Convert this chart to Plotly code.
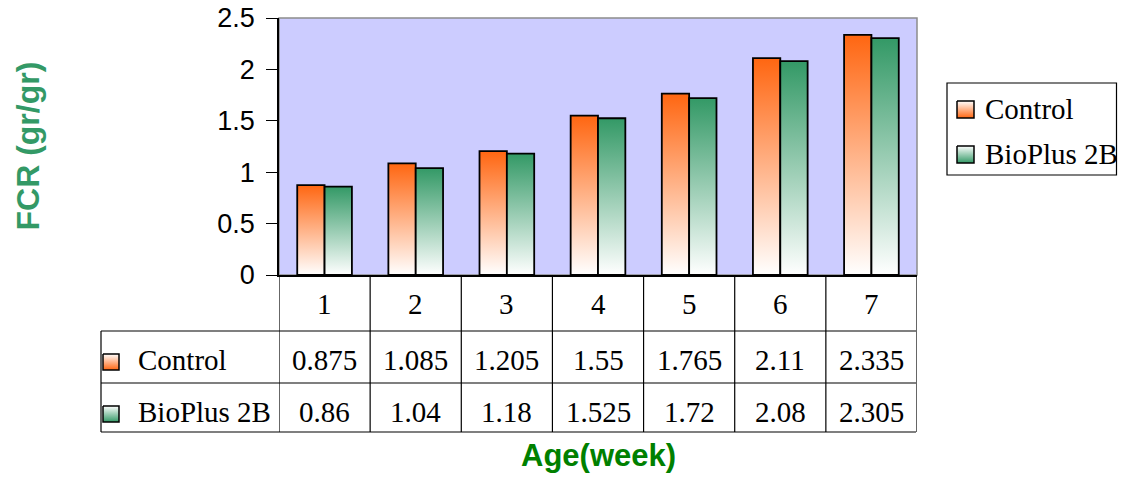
import plotly.graph_objects as go

weeks = ["1", "2", "3", "4", "5", "6", "7"]
control = [0.875, 1.085, 1.205, 1.55, 1.765, 2.11, 2.335]
bioplus = [0.86, 1.04, 1.18, 1.525, 1.72, 2.08, 2.305]
series_names = ["Control", "BioPlus 2B"]
series_colors = ["#FF6611", "#339966"]
y_ticks = [0, 0.5, 1, 1.5, 2, 2.5]

OFF = 8                              # page body margin compensation
W, H = 1126 - 2 * OFF, 482 - 2 * OFF # figure fits the window without scrollbars
PL, PR, PT, PB = 279, 917, 18, 275   # plot area in screen pixels
BW = 0.3                             # bar width in category units
SERIF = "Liberation Serif, Times New Roman, serif"
SANS = "Liberation Sans, Arial, sans-serif"
TFS = 29                             # table / legend font size

fig = go.Figure()

# bars as gradient-filled polygons on the main axes
for s, (vals, col, name) in enumerate(zip([control, bioplus], series_colors, series_names)):
    for i, v in enumerate(vals):
        xc = i + 1
        x0 = xc - BW if s == 0 else xc
        x1 = x0 + BW
        fig.add_trace(go.Scatter(
            x=[x0, x0, x1, x1, x0], y=[0, v, v, 0, 0],
            mode="lines", fill="toself",
            fillgradient=dict(type="vertical", colorscale=[[0, "#FFFFFF"], [1, col]]),
            line=dict(color="black", width=1.8),
            xaxis="x", yaxis="y", showlegend=False, hoverinfo="skip", name=name))


def swatch(x0, y0, size, col):
    fig.add_trace(go.Scatter(
        x=[x0, x0, x0 + size, x0 + size, x0], y=[y0, y0 + size, y0 + size, y0, y0],
        mode="lines", fill="toself",
        fillgradient=dict(type="vertical", colorscale=[[0, col], [1, "#FFFFFF"]]),
        line=dict(color="black", width=1.5),
        xaxis="x2", yaxis="y2", showlegend=False, hoverinfo="skip"))


shapes = []
annotations = []

# plot background and border
shapes.append(dict(type="rect", xref="x domain", yref="y domain", x0=0, x1=1, y0=0, y1=1,
                   fillcolor="#CCCCFF", line=dict(color="#8C8C8C", width=1.5), layer="below"))

# table grid
TL, TR = 101, 916
R0, R1, R2, R3 = PB, 331, 383, 432
LW = 1.2
for yy in [R1, R2, R3]:
    shapes.append(dict(type="line", xref="x2", yref="y2", x0=TL, x1=TR, y0=yy, y1=yy,
                       line=dict(color="black", width=LW)))
shapes.append(dict(type="line", xref="x2", yref="y2", x0=TL, x1=TL, y0=R1, y1=R3,
                   line=dict(color="black", width=LW)))
for i in range(len(weeks) + 1):
    shapes.append(dict(type="line", xref="x", yref="y2", x0=i + 0.5, x1=i + 0.5, y0=R0, y1=R3,
                       line=dict(color="black", width=LW)))

tfont = dict(family=SERIF, size=TFS, color="black")
row_y = [360, 412]
for i, w in enumerate(weeks):
    annotations.append(dict(x=i + 1, y=304, xref="x", yref="y2", text=w, showarrow=False,
                            font=tfont))
    annotations.append(dict(x=i + 1, y=row_y[0], xref="x", yref="y2", text=f"{control[i]:g}",
                            showarrow=False, font=tfont))
    annotations.append(dict(x=i + 1, y=row_y[1], xref="x", yref="y2", text=f"{bioplus[i]:g}",
                            showarrow=False, font=tfont))

for k, (name, col) in enumerate(zip(series_names, series_colors)):
    swatch(103, row_y[k] - 6, 16, col)
    annotations.append(dict(x=136, y=row_y[k], xref="x2", yref="y2", text=name, xanchor="left",
                            showarrow=False, font=tfont))

# legend
shapes.append(dict(type="rect", xref="x2", yref="y2", x0=947, x1=1116.5, y0=83, y1=175,
                   line=dict(color="black", width=LW), layer="below"))
leg_y = [109, 154]
for k, (name, col) in enumerate(zip(series_names, series_colors)):
    swatch(957, leg_y[k] - 8, 17, col)
    annotations.append(dict(x=983, y=leg_y[k], xref="x2", yref="y2", text=name, xanchor="left",
                            showarrow=False, font=tfont))

# axis titles
annotations.append(dict(x=27, y=(PT + PB) / 2, xref="x2", yref="y2", text="<b>FCR (gr/gr)</b>",
                        textangle=-90, showarrow=False,
                        font=dict(family=SANS, size=32, color="#339966")))
annotations.append(dict(x=(PL + PR) / 2, y=455, xref="x2", yref="y2", text="<b>Age(week)</b>",
                        showarrow=False, font=dict(family=SANS, size=31, color="#008000")))

fig.update_layout(
    width=W, height=H, margin=dict(l=0, r=0, t=0, b=0, autoexpand=False),
    paper_bgcolor="white", plot_bgcolor="rgba(0,0,0,0)",
    showlegend=False,
    xaxis=dict(domain=[(PL - OFF) / W, (PR - OFF) / W], range=[0.5, 7.5], showticklabels=False,
               ticks="", showgrid=False, zeroline=False, showline=True, linecolor="black",
               linewidth=1.5, fixedrange=True, automargin=False),
    yaxis=dict(domain=[1 - (PB - OFF) / H, 1 - (PT - OFF) / H], range=[0, 2.5], tickvals=y_ticks,
               ticktext=[f"{t:g}" for t in y_ticks], ticks="outside", ticklen=11,
               tickcolor="black", tickwidth=1.2, showgrid=False, zeroline=False,
               showline=True, linecolor="black", linewidth=1.5, ticklabelstandoff=6,
               ticklabeloverflow="allow",
               tickfont=dict(family=SANS, size=27, color="black"), fixedrange=True,
               automargin=False),
    xaxis2=dict(domain=[0, 1], range=[OFF, W + OFF], anchor="y2", visible=False,
                fixedrange=True, automargin=False),
    yaxis2=dict(domain=[0, 1], range=[H + OFF, OFF], anchor="x2", visible=False,
                fixedrange=True, automargin=False),
    shapes=shapes, annotations=annotations,
)

fig.write_html("out.html")
